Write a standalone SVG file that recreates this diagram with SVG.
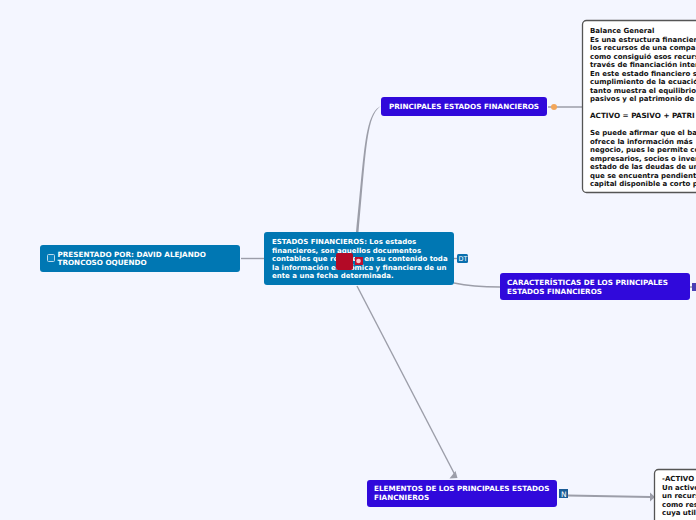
<svg xmlns="http://www.w3.org/2000/svg" width="696" height="520" viewBox="0 0 696 520">
<style>
text{font-family:"DejaVu Sans",Verdana,sans-serif;font-weight:700;font-size:7px}
.u{font-size:7.220px}
.w{fill:#fff}.k{fill:#111}
.blue{fill:#0077b3}.vio{fill:#3009db}
.note{fill:#fff;stroke:#555;stroke-width:1.3}
.c{fill:none;stroke:#9c9ea9;stroke-width:1.400}
.a{fill:#9c9ea9}
</style>
<rect width="696" height="520" fill="#f4f6ff"/>
<g id="connectors">
<path class="a" d="M356 232C360 195 363 150 367.300 131C370.500 116 375 108.500 381 106C375.500 109.500 371.500 117 368.700 132C365 150 362 195 358.500 232Z"/>
<path class="c" d="M241 258.500H264"/>
<path class="c" d="M454 283C468 286 485 287 500 287"/>
<path class="c" d="M357 286L454.500 474"/>
<path class="a" d="M449.500 478.500L457.500 478L455.500 471Z"/>
<path class="c" d="M548 107H582"/>
<path class="c" d="M568 495.500L650 497" style="stroke-width:1.800"/>
<path class="a" d="M650 492.500L655 497L650 501.500Z"/>
<path class="c" d="M454 258.500H457"/>
<path class="c" d="M690 287H692"/>
</g>
<g id="node-presentado">
<rect class="blue" x="40" y="245" width="200" height="27" rx="3"/>
<rect x="47.500" y="254.500" width="7" height="7" rx="1" fill="#0a84c1" stroke="#bcd9ea"/>
<text class="w u" x="57.500" y="257">PRESENTADO POR: DAVID ALEJANDO</text>
<text class="w u" x="57.500" y="265">TRONCOSO OQUENDO</text>
</g>
<g id="node-estados">
<rect class="blue" x="264" y="232" width="190" height="53" rx="3"/>
<text class="w" x="272" y="244">ESTADOS FINANCIEROS: Los estados</text>
<text class="w" x="272" y="252.500">financieros, son aquellos documentos</text>
<text class="w" x="272" y="261">contables que recogen en su contenido toda</text>
<text class="w" x="272" y="269.500">la información económica y financiera de un</text>
<text class="w" x="272" y="277.500">ente a una fecha determinada.</text>
<rect x="336" y="253" width="17" height="17" rx="2" fill="#b30a26"/>
<rect x="355" y="257" width="8" height="8" fill="#c0102e"/>
<circle cx="358.500" cy="261" r="2.300" fill="#f4c6ce"/>
<rect x="457" y="254" width="11" height="9" rx="1.500" fill="#0a6fae"/>
<text x="458.500" y="261" fill="#fff" style="font-size:6.500px;font-weight:400">DT</text>
</g>
<g id="node-principales">
<rect class="vio" x="381" y="97" width="166" height="19" rx="3"/>
<text class="w u" x="389" y="109">PRINCIPALES ESTADOS FINANCIEROS</text>
<circle cx="554" cy="107" r="3" fill="#f2a65a"/>
</g>
<g id="node-balance">
<rect class="note" x="582.500" y="20.500" width="130" height="172" rx="4"/>
<text class="k" x="590" y="33">Balance General</text>
<text class="k" x="590" y="41.500">Es una estructura financier</text>
<text class="k" x="590" y="50">los recursos de una compa</text>
<text class="k" x="590" y="58.500">como consiguió esos recurs</text>
<text class="k" x="590" y="67">través de financiación inter</text>
<text class="k" x="590" y="75.500">En este estado financiero s</text>
<text class="k" x="590" y="84">cumplimiento de la ecuació</text>
<text class="k" x="590" y="92.500">tanto muestra el equilibrio</text>
<text class="k" x="590" y="101">pasivos y el patrimonio de</text>
<text class="k u" x="590" y="118">ACTIVO = PASIVO + PATRI</text>
<text class="k" x="590" y="135">Se puede afirmar que el ba</text>
<text class="k" x="590" y="143.500">ofrece la información más</text>
<text class="k" x="590" y="152">negocio, pues le permite co</text>
<text class="k" x="590" y="160.500">empresarios, socios o inver</text>
<text class="k" x="590" y="169">estado de las deudas de un</text>
<text class="k" x="590" y="177.500">que se encuentra pendiente</text>
<text class="k" x="590" y="186">capital disponible a corto p</text>
</g>
<g id="node-caracteristicas">
<rect class="vio" x="500" y="273" width="190" height="27" rx="3"/>
<text class="w u" x="507" y="285">CARACTERÍSTICAS DE LOS PRINCIPALES</text>
<text class="w u" x="507" y="293.500">ESTADOS FINANCIEROS</text>
<rect x="692" y="283" width="4" height="8" fill="#4a3fb5"/>
</g>
<g id="node-elementos">
<rect class="vio" x="367" y="480" width="190" height="27" rx="3"/>
<text class="w u" x="374" y="491">ELEMENTOS DE LOS PRINCIPALES ESTADOS</text>
<text class="w u" x="374" y="500">FIANCNIEROS</text>
<rect x="559" y="489" width="9" height="9" fill="#1a5c96"/>
<text x="561" y="497" fill="#fff" style="font-size:7.500px;font-weight:400">N</text>
</g>
<g id="node-activo">
<rect class="note" x="654.500" y="469.500" width="80" height="70" rx="4"/>
<text class="k" x="662" y="481">-ACTIVO</text>
<text class="k" x="662" y="489.500">Un activo</text>
<text class="k" x="662" y="498">un recurs</text>
<text class="k" x="662" y="506.500">como res</text>
<text class="k" x="662" y="515">cuya utili</text>
</g>
</svg>
